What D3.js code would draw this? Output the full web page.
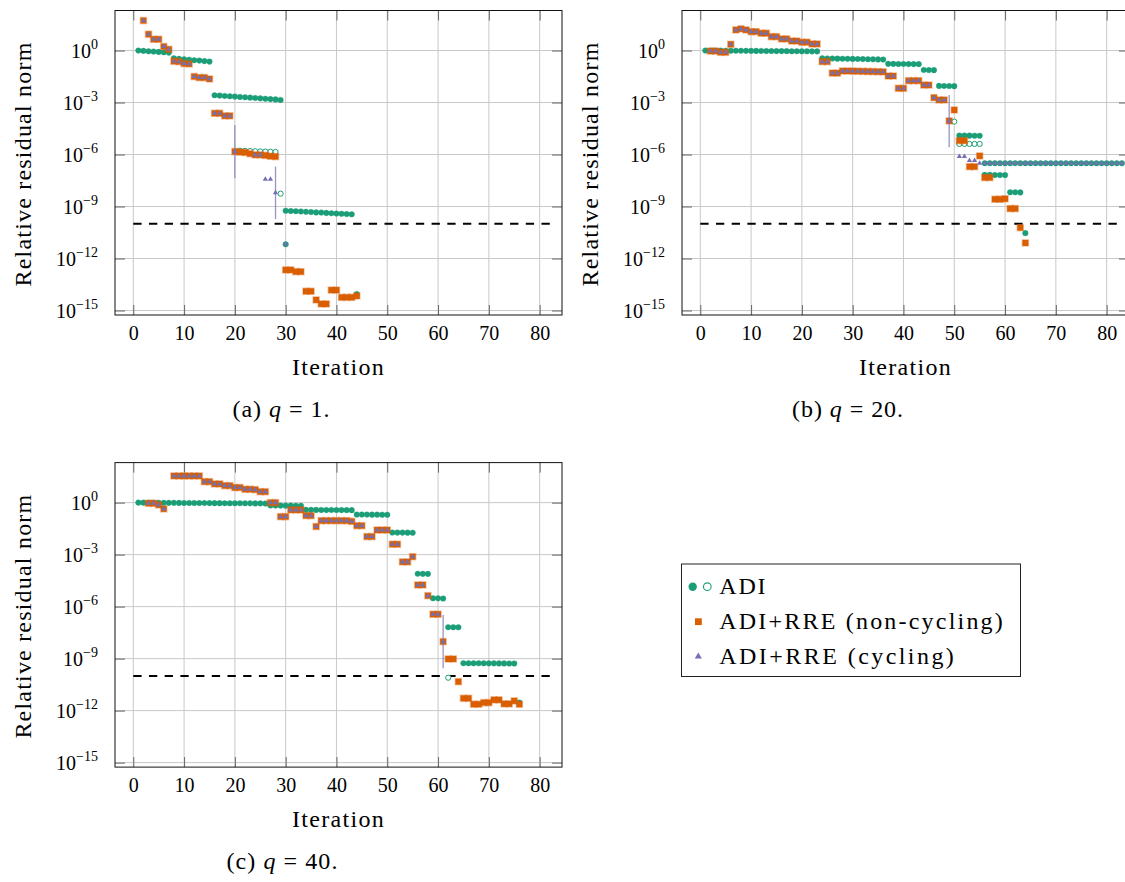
<!DOCTYPE html>
<html><head><meta charset="utf-8">
<script src="https://cdn.jsdelivr.net/npm/d3@7"></script>
<style>
body{margin:0;background:#fff}
svg{display:block}
</style>
</head><body>
<svg id="chart" width="1125" height="882"></svg>
<script>
// ---------------- data ----------------
const xTicks = [0, 10, 20, 30, 40, 50, 60, 70, 80];
const yTicks = [1e0, 1e-3, 1e-6, 1e-9, 1e-12, 1e-15];
const yTickExp = ["0", "\u22123", "\u22126", "\u22129", "\u221212", "\u221215"];
const tolerance = 1e-10;
const toleranceRange = [0, 83];
const legendLabels = ["ADI", "ADI+RRE (non-cycling)", "ADI+RRE (cycling)"];
const captionLetters = ["(a)", "(b)", "(c)"];
const captionQ = ["1", "20", "40"];

// panel (a) q = 1
const adiA = [[1,1.0],[2,0.955],[3,0.912],[4,0.871],[5,0.832],[6,0.794],[7,0.759],
  [8,0.355],[9,0.331],[10,0.316],[11,0.295],[12,0.275],[13,0.263],[14,0.245],[15,0.229],
  [16,2.63e-3],[17,2.51e-3],[18,2.40e-3],[19,2.29e-3],[20,2.19e-3],[21,2.09e-3],[22,2.0e-3],[23,1.91e-3],
  [24,1.82e-3],[25,1.74e-3],[26,1.66e-3],[27,1.58e-3],[28,1.51e-3],[29,1.41e-3],
  [30,5.75e-10],[31,5.5e-10],[32,5.37e-10],[33,5.13e-10],[34,5.0e-10],[35,4.79e-10],[36,4.57e-10],
  [37,4.47e-10],[38,4.27e-10],[39,4.07e-10],[40,3.98e-10],[41,3.8e-10],[42,3.72e-10],[43,3.55e-10],
  [30,6.6e-12],[44,8.9e-15]];
const adiOpenA = [[21,1.66e-6],[22,1.62e-6],[23,1.58e-6],[24,1.55e-6],[25,1.51e-6],[26,1.48e-6],[27,1.45e-6],[28,1.41e-6],[29,5.5e-9]];
const rreA = [[2,53.7],[3,8.71],[4,4.47],[5,4.47],[6,1.70],[7,1.17],[8,0.240],[9,0.229],[10,0.178],[11,0.170],
  [12,3.16e-2],[13,2.75e-2],[14,2.75e-2],[15,2.29e-2],[16,2.4e-4],[17,2.4e-4],[18,1.7e-4],[19,1.7e-4],
  [20,1.48e-6],[21,1.38e-6],[22,1.32e-6],[23,1.12e-6],[24,9.55e-7],[25,9.55e-7],[26,8.91e-7],[27,7.94e-7],[28,7.59e-7],
  [30,2.19e-13],[31,2.19e-13],[32,1.74e-13],[33,1.74e-13],[34,1.29e-14],[35,1.29e-14],[36,4.07e-15],
  [37,2.4e-15],[38,2.4e-15],[39,1.51e-14],[40,1.51e-14],[41,5.75e-15],[42,5.75e-15],[43,5.75e-15],[44,6.92e-15]];
const cycSharedA = [2,3,4,5,6,7,8,9,10,11,12,13,14,15,16,17,18,19,20,24,25];
const cycExtraA = [[26,3.72e-8],[27,3.72e-8],[28,6.31e-9],[30,6.61e-12]];
const barsA = [[20,5.1e-5,4.27e-8],[28,2.0e-7,1.9e-10]];

// panel (b) q = 20
const adiB = [[1,1.0],[2,0.995],[3,0.99],[4,0.985],[5,0.98],[6,0.975],[7,0.97],[8,0.965],[9,0.96],[10,0.955],
  [11,0.95],[12,0.945],[13,0.94],[14,0.935],[15,0.93],[16,0.925],[17,0.92],[18,0.915],[19,0.91],[20,0.905],
  [21,0.9],[22,0.895],[23,0.89],
  [24,0.355],[25,0.35],[26,0.345],[27,0.34],[28,0.336],[29,0.332],[30,0.328],[31,0.324],[32,0.32],[33,0.316],
  [34,0.312],[35,0.308],[36,0.302],
  [37,0.17],[38,0.169],[39,0.168],[40,0.167],[41,0.166],[42,0.165],[43,0.164],
  [44,7.6e-2],[45,7.5e-2],[46,7.4e-2],
  [47,9.1e-3],[48,9.0e-3],[49,8.9e-3],[50,8.8e-3],
  [51,1.25e-5],[52,1.24e-5],[53,1.23e-5],[54,1.22e-5],[55,1.21e-5],
  [56,6.7e-8],[57,6.65e-8],[58,6.6e-8],[59,6.55e-8],[60,6.5e-8],
  [61,6.7e-9],[62,6.6e-9],[63,6.5e-9],[64,2.9e-11]];
const adiPlateauB = [[55,3.16e-7],[56,3.16e-7],[57,3.16e-7],[58,3.16e-7],[59,3.16e-7],[60,3.16e-7],[61,3.16e-7],
  [62,3.16e-7],[63,3.16e-7],[64,3.16e-7],[65,3.16e-7],[66,3.16e-7],[67,3.16e-7],[68,3.16e-7],[69,3.16e-7],
  [70,3.16e-7],[71,3.16e-7],[72,3.16e-7],[73,3.16e-7],[74,3.16e-7],[75,3.16e-7],[76,3.16e-7],[77,3.16e-7],
  [78,3.16e-7],[79,3.16e-7],[80,3.16e-7],[81,3.16e-7],[82,3.16e-7],[83,3.16e-7]];
const adiOpenB = [[50,7.9e-5],[51,4.07e-6],[52,4.07e-6],[53,4.07e-6],[54,4.07e-6],[55,4.07e-6]];
const rreB = [[2,0.93],[3,0.93],[4,0.79],[5,0.79],[6,2.29],[7,15.5],[8,17.8],[9,15.5],[10,12.3],[11,12.3],
  [12,10.0],[13,10.0],[14,6.31],[15,6.31],[16,4.68],[17,4.68],[18,3.55],[19,3.55],[20,3.02],[21,3.02],
  [22,2.4],[23,2.4],[24,0.229],[25,0.229],[26,5.0e-2],[27,5.0e-2],[28,6.6e-2],[29,6.6e-2],[30,6.5e-2],
  [31,6.4e-2],[32,6.3e-2],[33,6.2e-2],[34,6.1e-2],[35,6.0e-2],[36,5.9e-2],[37,3.39e-2],[38,3.39e-2],
  [39,6.61e-3],[40,6.61e-3],[41,1.82e-2],[42,1.82e-2],[43,1.82e-2],[44,1.02e-2],[45,1.02e-2],[46,1.91e-3],
  [47,1.41e-3],[48,1.41e-3],[49,8.7e-5],[50,3.72e-4],[51,6.31e-6],[52,6.31e-6],[53,2.0e-7],[54,2.0e-7],
  [55,8.3e-7],[56,4.68e-8],[57,4.68e-8],[58,2.63e-9],[59,2.63e-9],[60,2.8e-9],[61,7.6e-10],[62,7.6e-10],
  [63,6.0e-11],[64,7.9e-12]];
const cycSharedMaxB = 49;
const cycExtraB = [[51,7.6e-7],[52,7.6e-7],[53,4.47e-7],[54,4.47e-7]].concat(adiPlateauB);
const barsB = [[49,2.75e-3,2.63e-6]];

// panel (c) q = 40
const adiC = [[1,1.0],[2,0.995],[3,0.99],[4,0.985],[5,0.98],[6,0.976],[7,0.972],[8,0.968],[9,0.964],[10,0.96],
  [11,0.956],[12,0.952],[13,0.948],[14,0.944],[15,0.94],[16,0.936],[17,0.932],[18,0.928],[19,0.924],[20,0.92],
  [21,0.916],[22,0.912],[23,0.908],[24,0.904],[25,0.9],[26,0.896],
  [27,0.68],[28,0.677],[29,0.674],[30,0.671],[31,0.668],[32,0.665],[33,0.662],
  [34,0.385],[35,0.383],[36,0.381],[37,0.379],[38,0.377],[39,0.375],[40,0.373],[41,0.371],[42,0.369],[43,0.367],
  [44,0.206],[45,0.205],[46,0.204],[47,0.203],[48,0.202],[49,0.201],[50,0.2],
  [51,1.88e-2],[52,1.87e-2],[53,1.86e-2],[54,1.85e-2],[55,1.84e-2],
  [56,7.8e-5],[57,7.75e-5],[58,7.7e-5],
  [59,3.05e-6],[60,3.0e-6],[61,2.95e-6],
  [62,6.5e-8],[63,6.45e-8],[64,6.4e-8],
  [65,5.45e-10],[66,5.42e-10],[67,5.4e-10],[68,5.38e-10],[69,5.36e-10],[70,5.34e-10],[71,5.32e-10],
  [72,5.3e-10],[73,5.28e-10],[74,5.26e-10],[75,5.24e-10],[76,2.9e-12]];
const adiOpenC = [[62,7.9e-11]];
const rreC = [[3,0.912],[4,0.912],[5,0.741],[6,0.437],[8,34.7],[9,34.7],[10,34.7],[11,34.7],[12,34.7],[13,34.7],
  [14,16.2],[15,16.2],[16,12.0],[17,12.0],[18,9.55],[19,9.55],[20,7.41],[21,7.41],[22,5.89],[23,5.89],[24,5.62],
  [25,4.27],[26,4.27],[27,1.0],[28,1.0],[29,0.155],[30,0.155],[31,0.38],[32,0.38],[33,0.38],[34,0.178],[35,0.178],
  [36,4.17e-2],[37,9.12e-2],[38,9.12e-2],[39,9.12e-2],[40,9.12e-2],[41,9.12e-2],[42,9.12e-2],[43,8.3e-2],
  [44,4.68e-2],[45,4.68e-2],[46,1.1e-2],[47,1.1e-2],[48,2.63e-2],[49,2.63e-2],[50,2.63e-2],[51,3.98e-3],[52,3.98e-3],
  [53,3.8e-4],[54,3.8e-4],[55,7.59e-4],[56,1.78e-5],[57,1.78e-5],[58,4.27e-6],[59,3.63e-7],[60,3.63e-7],[61,9.55e-9],
  [62,9.55e-10],[63,9.55e-10],[64,4.68e-11],[65,5.13e-12],[66,5.13e-12],[67,2.34e-12],[68,2.34e-12],[69,2.88e-12],
  [70,2.88e-12],[71,4.17e-12],[72,4.17e-12],[73,2.45e-12],[74,2.45e-12],[75,3.63e-12],[76,2.34e-12]];
const cycSharedMaxC = 61;
const barsC = [[61,3.31e-7,2.75e-10]];

// ---------------- layout / style ----------------
const colors = {adi: "#1b9e77", rre: "#d95f02", cyc: "#7570b3"};
const plotW = 447, plotH = 304.5;
const xDomain = [-3.6, 84.4];
const yDomain = [5.5e-16, 204];

// pick an installed serif font
function pickFont(cands) {
  const ctx = document.createElement("canvas").getContext("2d");
  const s = "Iteration Relative residual norm 0123456789 ADI";
  for (const f of cands) {
    let found = false;
    for (const base of ["monospace", "sans-serif", "cursive"]) {
      ctx.font = `40px ${base}`;
      const w0 = ctx.measureText(s).width;
      ctx.font = `40px "${f}", ${base}`;
      if (Math.abs(ctx.measureText(s).width - w0) > 0.01) found = true;
    }
    if (found) return `"${f}", serif`;
  }
  return "serif";
}
const font = pickFont(["Liberation Serif", "Tinos", "Times New Roman", "DejaVu Serif", "Noto Serif", "FreeSerif"]);

const svg = d3.select("#chart").style("font-family", font);

function fitText(sel, target) {
  const n = sel.node();
  const len = n.getComputedTextLength();
  const chars = n.textContent.length;
  sel.attr("letter-spacing", ((target - len) / chars).toFixed(3));
}

const panels = [
  {left: 115, top: 10.5, adi: adiA, adiOpen: adiOpenA, rre: rreA,
   cyc: rreA.filter(d => cycSharedA.includes(d[0])).concat(cycExtraA), bars: barsA, capX: 281.5, capW: 98},
  {left: 682, top: 10.5, adi: adiB.concat(adiPlateauB.slice(1)), adiOpen: adiOpenB, rre: rreB,
   cyc: rreB.filter(d => d[0] <= cycSharedMaxB).concat(cycExtraB), bars: barsB, capX: 848, capW: 112},
  {left: 115, top: 462.6, adi: adiC, adiOpen: adiOpenC, rre: rreC,
   cyc: rreC.filter(d => d[0] <= cycSharedMaxC), bars: barsC, capX: 282.5, capW: 112}
];

panels.forEach((p, pi) => {
  const g = svg.append("g");
  const x = d3.scaleLinear().domain(xDomain).range([p.left, p.left + plotW]);
  const y = d3.scaleLog().domain(yDomain).range([p.top + plotH, p.top]);

  // grid
  g.append("g").selectAll("line").data(xTicks).join("line")
    .attr("x1", d => x(d)).attr("x2", d => x(d)).attr("y1", p.top).attr("y2", p.top + plotH)
    .attr("stroke", "#c9c9c9").attr("stroke-width", 1);
  g.append("g").selectAll("line").data(yTicks).join("line")
    .attr("y1", d => y(d)).attr("y2", d => y(d)).attr("x1", p.left).attr("x2", p.left + plotW)
    .attr("stroke", "#c9c9c9").attr("stroke-width", 1);

  // ticks (inside, all four sides)
  const tl = 10;
  const bottom = g.append("g").attr("transform", `translate(0,${p.top + plotH})`)
    .call(d3.axisBottom(x).tickValues(xTicks).tickSizeInner(-tl).tickSizeOuter(0));
  const top = g.append("g").attr("transform", `translate(0,${p.top})`)
    .call(d3.axisTop(x).tickValues(xTicks).tickSizeInner(-tl).tickSizeOuter(0).tickFormat(""));
  const left = g.append("g").attr("transform", `translate(${p.left},0)`)
    .call(d3.axisLeft(y).tickValues(yTicks).tickSizeInner(-tl).tickSizeOuter(0));
  const right = g.append("g").attr("transform", `translate(${p.left + plotW},0)`)
    .call(d3.axisRight(y).tickValues(yTicks).tickSizeInner(-tl).tickSizeOuter(0).tickFormat(""));
  [bottom, top, left, right].forEach(a => {
    a.select(".domain").remove();
    a.selectAll(".tick line").attr("stroke", "#666").attr("stroke-width", 1);
    a.attr("font-family", font).attr("font-size", 20);
  });
  bottom.selectAll(".tick text").attr("y", 25).attr("dy", null).attr("fill", "#000");
  left.selectAll(".tick text").each(function(d, i) {
    const t = d3.select(this);
    t.text(null).attr("x", -17).attr("y", 7).attr("dy", null).attr("fill", "#000");
    t.append("tspan").text("10");
    t.append("tspan").attr("font-size", 14).attr("dy", -9.5).text(yTickExp[i]);
  });

  // box
  g.append("rect").attr("x", p.left).attr("y", p.top).attr("width", plotW).attr("height", plotH)
    .attr("fill", "none").attr("stroke", "#111").attr("stroke-width", 1);

  // tolerance line
  g.append("line")
    .attr("x1", x(toleranceRange[0])).attr("x2", x(toleranceRange[1]))
    .attr("y1", y(tolerance)).attr("y2", y(tolerance))
    .attr("stroke", "#000").attr("stroke-width", 2).attr("stroke-dasharray", "8.3 7.4");

  // ADI filled
  g.append("g").selectAll("circle").data(p.adi).join("circle")
    .attr("cx", d => x(d[0])).attr("cy", d => y(d[1])).attr("r", 2.8)
    .attr("fill", colors.adi).attr("stroke", colors.adi).attr("stroke-opacity", 0.35).attr("stroke-width", 1);
  // ADI open
  g.append("g").selectAll("circle").data(p.adiOpen).join("circle")
    .attr("cx", d => x(d[0])).attr("cy", d => y(d[1])).attr("r", 2.6)
    .attr("fill", "#fff").attr("stroke", colors.adi).attr("stroke-width", 1);
  // RRE non-cycling squares
  g.append("g").selectAll("rect").data(p.rre).join("rect")
    .attr("x", d => x(d[0]) - 3).attr("y", d => y(d[1]) - 3).attr("width", 6).attr("height", 6)
    .attr("fill", colors.rre).attr("stroke", colors.rre).attr("stroke-opacity", 0.35).attr("stroke-width", 1.6);
  // cycling restart bars
  g.append("g").selectAll("line").data(p.bars).join("line")
    .attr("x1", d => x(d[0])).attr("x2", d => x(d[0])).attr("y1", d => y(d[1])).attr("y2", d => y(d[2]))
    .attr("stroke", colors.cyc).attr("stroke-opacity", 0.75).attr("stroke-width", 1.3);
  // cycling triangles
  const tri = d3.symbol().type(d3.symbolTriangle).size(12);
  g.append("g").selectAll("path").data(p.cyc).join("path")
    .attr("d", tri).attr("transform", d => `translate(${x(d[0])},${y(d[1])})`)
    .attr("fill", colors.cyc);

  // axis labels
  const xl = g.append("text").attr("x", p.left + plotW / 2).attr("y", p.top + plotH + 60)
    .attr("text-anchor", "middle").attr("font-size", 24).text("Iteration");
  fitText(xl, 93);
  const yl = g.append("text").attr("transform", `translate(${p.left - 84},${p.top + 153.5}) rotate(-90)`)
    .attr("text-anchor", "middle").attr("font-size", 24).text("Relative residual norm");
  fitText(yl, 245);

  // caption
  const cap = g.append("text").attr("x", p.capX).attr("y", p.top + plotH + 102)
    .attr("text-anchor", "middle").attr("font-size", 24);
  cap.append("tspan").text(captionLetters[pi] + " ");
  cap.append("tspan").attr("font-style", "italic").text("q");
  cap.append("tspan").text(" = " + captionQ[pi] + ".");
  fitText(cap, p.capW);
});

// ---------------- legend ----------------
const lg = svg.append("g");
lg.append("rect").attr("x", 681.5).attr("y", 564).attr("width", 339).attr("height", 112.5)
  .attr("fill", "#fff").attr("stroke", "#222").attr("stroke-width", 1);
const rowY = [586.7, 621.7, 656.5];
lg.append("circle").attr("cx", 692.7).attr("cy", rowY[0]).attr("r", 4.2).attr("fill", colors.adi);
lg.append("circle").attr("cx", 707.3).attr("cy", rowY[0]).attr("r", 3.8).attr("fill", "#fff")
  .attr("stroke", colors.adi).attr("stroke-width", 1.1);
lg.append("rect").attr("x", 695).attr("y", rowY[1] - 3.4).attr("width", 6.8).attr("height", 6.8).attr("fill", colors.rre);
lg.append("path").attr("d", d3.symbol().type(d3.symbolTriangle).size(22))
  .attr("transform", `translate(698.3,${rowY[2]})`).attr("fill", colors.cyc);
const legendWidths = [48, 285.7, 237];
legendLabels.forEach((t, i) => {
  const lt = lg.append("text").attr("x", 719.3).attr("y", rowY[i] + 7.6).attr("font-size", 24).text(t);
  fitText(lt, legendWidths[i]);
});
</script>
</body></html>
